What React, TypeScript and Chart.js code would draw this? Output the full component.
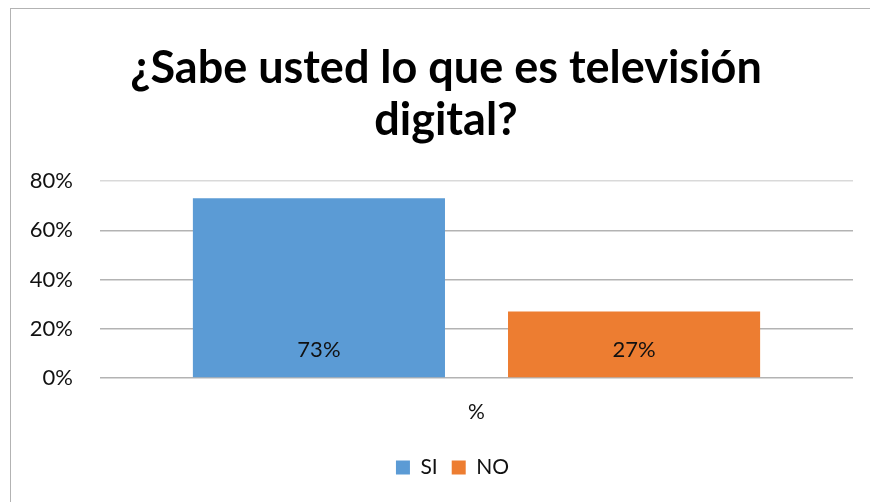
import React, { useEffect, useRef } from "react";
import { Chart, registerables } from "chart.js";

Chart.register(...registerables);

const categories = ["%"];
const siValues = [73];
const noValues = [27];
const seriesNames = ["SI", "NO"];
const dataLabels = ["73%", "27%"];
const titleLines = ["¿Sabe usted lo que es televisión", "digital?"];
const FONT = "Lato, 'Open Sans', sans-serif";

const barLabelPlugin = {
  id: "barLabels",
  afterDatasetsDraw(chart: any) {
    const ctx = chart.ctx;
    ctx.save();
    ctx.font = `22px ${FONT}`;
    ctx.fillStyle = "#111";
    ctx.textAlign = "center";
    ctx.textBaseline = "middle";
    chart.data.datasets.forEach((ds: any, i: number) => {
      const meta = chart.getDatasetMeta(i);
      meta.data.forEach((bar: any) => {
        ctx.fillText(dataLabels[i], bar.x, bar.base - 27);
      });
    });
    ctx.restore();
  },
};

const titlePlugin = {
  id: "centredTitle",
  afterDraw(chart: any) {
    const ctx = chart.ctx;
    ctx.save();
    ctx.font = `bold 45px ${FONT}`;
    ctx.fillStyle = "#000";
    ctx.textAlign = "center";
    ctx.textBaseline = "middle";
    titleLines.forEach((line, i) => {
      ctx.fillText(line, 446, 68 + i * 52);
    });
    ctx.restore();
  },
};

const legendShiftPlugin = {
  id: "legendShift",
  afterLayout(chart: any) {
    const lg = chart.legend;
    if (lg) {
      lg.left += 26;
      lg.right += 26;
    }
  },
};

export default function App() {
  const ref = useRef<HTMLCanvasElement>(null);
  useEffect(() => {
    if (!ref.current) return;
    const chart = new Chart(ref.current, {
      type: "bar",
      data: {
        labels: categories,
        datasets: [
          { label: seriesNames[0], data: siValues, backgroundColor: "#5B9BD5", borderWidth: 0 },
          { label: seriesNames[1], data: noValues, backgroundColor: "#ED7D31", borderWidth: 0 },
        ],
      },
      options: {
        animation: false,
        responsive: false,
        maintainAspectRatio: false,
        layout: { padding: { left: 0, right: 17, top: 181, bottom: 14 } },
        datasets: { bar: { categoryPercentage: 0.837, barPercentage: 0.8 } } as any,
        plugins: {
          title: { display: false },
          legend: {
            position: "bottom",
            labels: {
              boxWidth: 14,
              boxHeight: 14,
              color: "#111",
              font: { family: FONT, size: 21 },
              padding: 14,
            },
          },
          tooltip: { enabled: false },
        },
        scales: {
          x: {
            grid: { display: false, drawTicks: false },
            border: { display: false },
            ticks: { color: "#111", font: { family: FONT, size: 21 }, padding: 22 },
            afterFit(scale: any) {
              scale.height = 65;
            },
          },
          y: {
            min: 0,
            max: 80,
            ticks: {
              stepSize: 20,
              color: "#111",
              font: { family: FONT, size: 22 },
              padding: 27,
              callback: (v: any) => `${v}%`,
            },
            grid: {
              drawTicks: false,
              color: (c: any) => (c.tick && c.tick.value === 80 ? "#d9d9d9" : "#b3b3b3"),
              lineWidth: 1.5,
            },
            border: { display: false },
            afterFit(scale: any) {
              scale.width = 100;
            },
          },
        } as any,
      },
      plugins: [barLabelPlugin, titlePlugin, legendShiftPlugin],
    });
    return () => chart.destroy();
  }, []);
  return (
    <div style={{ position: "fixed", left: 0, top: 0, width: 870, height: 502, background: "#fff" }}>
      <div
        style={{
          position: "absolute",
          left: 10,
          top: 8,
          width: 870,
          height: 520,
          borderLeft: "1.5px solid #b3b3b3",
          borderTop: "1.5px solid #b3b3b3",
        }}
      />
      <canvas ref={ref} width={870} height={502} style={{ position: "absolute", left: 0, top: 0 }} />
    </div>
  );
}
